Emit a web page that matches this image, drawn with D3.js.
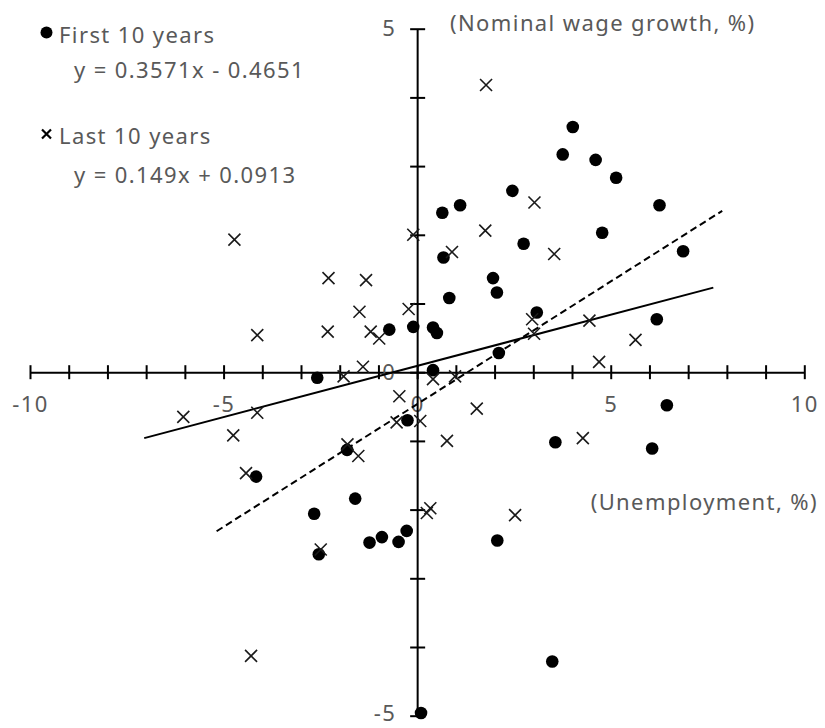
<!DOCTYPE html>
<html>
<head>
<meta charset="utf-8">
<script src="https://cdn.jsdelivr.net/npm/d3@7"></script>
<style>
  body { margin: 0; background: #fff; }
  #chart text { font-family: "Noto Sans", "Noto Sans CJK JP", sans-serif; fill: #595959; letter-spacing: 1.4px; }
</style>
</head>
<body>
<div id="chart"></div>
<script>
// Unemployment (x) vs nominal wage growth (y), two periods
const firstX = [4.02, 3.76, 4.61, 5.14, 2.46, 1.11, 0.65, 6.26, 4.78, 2.75,
                6.87, 0.68, 1.96, 2.06, 0.83, 3.09, -0.72, -0.10, 0.41, 0.51,
                6.19, 2.11, 0.41, -2.58, 6.45, -0.25, 3.57, 6.07, -1.81, -4.16,
                -1.60, -2.66, -0.27, -0.91, -1.23, -0.48, -2.54, 2.07, 3.49, 0.10];
const firstY = [3.57, 3.17, 3.09, 2.83, 2.64, 2.43, 2.32, 2.43, 2.03, 1.87,
                1.76, 1.67, 1.37, 1.16, 1.08, 0.87, 0.62, 0.66, 0.65, 0.57,
                0.77, 0.28, 0.03, -0.08, -0.48, -0.70, -1.02, -1.11, -1.13, -1.52,
                -1.84, -2.06, -2.31, -2.40, -2.48, -2.47, -2.65, -2.45, -4.21, -4.96];

const lastX = [1.78, 3.03, 1.76, -0.10, -4.72, 0.90, 3.54, -2.29, -1.32, -1.49,
               -0.22, 2.97, 4.45, -2.31, -4.13, -1.20, -0.98, 3.02, 5.64, -1.40,
               4.70, -1.90, 0.41, 0.98, -0.46, 1.54, -6.04, -4.13, -0.53, 0.08,
               -4.75, 0.77, 4.28, -1.80, -1.52, -4.42, -2.49, 0.34, 0.25, 2.53, -4.29];
const lastY = [4.18, 2.47, 2.06, 2.00, 1.93, 1.75, 1.72, 1.37, 1.34, 0.88,
               0.92, 0.77, 0.75, 0.59, 0.54, 0.59, 0.49, 0.56, 0.47, 0.08,
               0.15, -0.06, -0.10, -0.06, -0.35, -0.53, -0.65, -0.59, -0.73, -0.71,
               -0.92, -1.00, -0.96, -1.05, -1.22, -1.47, -2.58, -1.98, -2.05, -2.08, -4.13];

// trend lines: [slope, intercept], and the x range they are drawn over
const firstTrend = [0.3571, -0.4651];
const firstTrendRange = [-5.18, 7.88];
const lastTrend = [0.149, 0.0913];
const lastTrendRange = [-7.05, 7.65];

const xTicks = d3.range(-10, 11);
const yTicks = d3.range(-5, 6);

const width = 825, height = 728;
const fontSize = "22px";

const svg = d3.select("#chart")
  .append("svg")
  .attr("width", width)
  .attr("height", height);

const x = d3.scaleLinear().domain([-10, 10]).range([30, 804.3]);
const y = d3.scaleLinear().domain([-5, 5]).range([715.7, 28.7]);

// X axis (crosses at y = 0)
const xAxis = svg.append("g")
  .attr("transform", `translate(0,${y(0)})`)
  .call(d3.axisBottom(x).tickValues(xTicks).tickSize(7).tickSizeOuter(0)
    .tickFormat(d => d % 5 === 0 ? String(d) : ""));
xAxis.select(".domain").attr("stroke", "#000").attr("stroke-width", 2);
xAxis.selectAll(".tick line").attr("y1", -7).attr("stroke", "#000").attr("stroke-width", 2);
xAxis.selectAll(".tick text")
  .attr("y", 40).attr("dy", 0)
  .style("font-size", fontSize);

// Y axis (crosses at x = 0)
const yAxis = svg.append("g")
  .attr("transform", `translate(${x(0)},0)`)
  .call(d3.axisLeft(y).tickValues(yTicks).tickSize(7).tickSizeOuter(0)
    .tickFormat(d => d % 5 === 0 ? String(d) : ""));
yAxis.select(".domain").attr("stroke", "#000").attr("stroke-width", 2);
yAxis.selectAll(".tick line").attr("x1", 8).attr("stroke", "#000").attr("stroke-width", 2);
yAxis.selectAll(".tick text")
  .attr("x", -21).attr("dy", d => d === -5 ? "0.22em" : "0.33em")
  .style("font-size", fontSize);

// axis titles
svg.append("text")
  .attr("x", 450).attr("y", 31)
  .style("font-size", fontSize)
  .text("(Nominal wage growth, %)");

svg.append("text")
  .attr("x", 818).attr("y", 510)
  .attr("text-anchor", "end")
  .style("font-size", fontSize)
  .text("(Unemployment, %)");

// trend lines
function trendPoints(t, r) {
  return r.map(v => [x(v), y(t[0] * v + t[1])]);
}
const line = d3.line();

svg.append("path")
  .attr("d", line(trendPoints(firstTrend, firstTrendRange)))
  .attr("fill", "none")
  .attr("stroke", "#000")
  .attr("stroke-width", 2)
  .attr("stroke-dasharray", "7,4");

svg.append("path")
  .attr("d", line(trendPoints(lastTrend, lastTrendRange)))
  .attr("fill", "none")
  .attr("stroke", "#000")
  .attr("stroke-width", 2);

// points: first 10 years (filled circles)
svg.selectAll(".first-pt")
  .data(d3.range(firstX.length))
  .enter()
  .append("circle")
  .attr("class", "first-pt")
  .attr("cx", i => x(firstX[i]))
  .attr("cy", i => y(firstY[i]))
  .attr("r", 6.3)
  .attr("fill", "#000");

// points: last 10 years (crosses)
const cross = "M-6,-6L6,6M-6,6L6,-6";
svg.selectAll(".last-pt")
  .data(d3.range(lastX.length))
  .enter()
  .append("path")
  .attr("class", "last-pt")
  .attr("transform", i => `translate(${x(lastX[i])},${y(lastY[i])})`)
  .attr("d", cross)
  .attr("fill", "none")
  .attr("stroke", "#1a1a1a")
  .attr("stroke-width", 1.6);

// legend
const legend = svg.append("g");

legend.append("circle")
  .attr("cx", 46.5).attr("cy", 32.5)
  .attr("r", 6)
  .attr("fill", "#000");
legend.append("text")
  .attr("x", 59).attr("y", 43)
  .style("font-size", fontSize)
  .text("First 10 years");
legend.append("text")
  .attr("x", 74).attr("y", 78)
  .style("font-size", fontSize)
  .text("y = 0.3571x - 0.4651");

legend.append("path")
  .attr("transform", "translate(46.5,134)")
  .attr("d", "M-4.5,-4.5L4.5,4.5M-4.5,4.5L4.5,-4.5")
  .attr("fill", "none")
  .attr("stroke", "#000")
  .attr("stroke-width", 2.2);
legend.append("text")
  .attr("x", 59).attr("y", 144)
  .style("font-size", fontSize)
  .text("Last 10 years");
legend.append("text")
  .attr("x", 74).attr("y", 183)
  .style("font-size", fontSize)
  .text("y = 0.149x + 0.0913");
</script>
</body>
</html>
